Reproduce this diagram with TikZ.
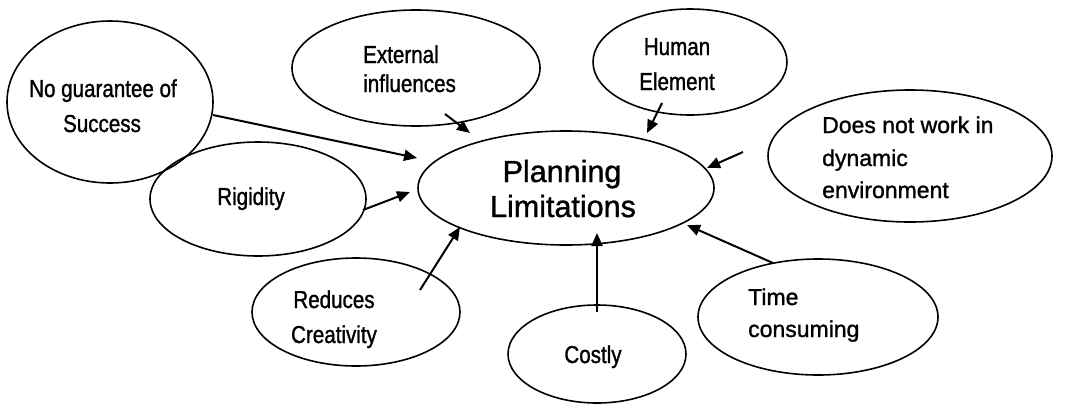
\documentclass[tikz,border=0pt]{standalone}
\usepackage{fontspec}
\setmainfont{Liberation Sans}[FakeBold=1.2]
\newfontfamily\narrowfont{Liberation Sans}[FakeStretch=0.84,FakeBold=1.2]
\newfontfamily\wideregfont{Liberation Sans}[FakeBold=1.2]
\usetikzlibrary{shapes.geometric,arrows.meta}
\tikzset{
  bubble/.style={draw, ellipse, line width=1.6pt, inner sep=0pt},
  lbl/.style={inner sep=0pt, font=\narrowfont\fontsize{24.5}{35}\selectfont},
  wlbl/.style={inner sep=0pt, font=\wideregfont\fontsize{23}{35}\selectfont},
  biglbl/.style={inner sep=0pt, font=\wideregfont\fontsize{30.5}{35}\selectfont},
  arr/.style={line width=2pt, -{Triangle[length=13pt,width=11pt]}}
}
\begin{document}
\begin{tikzpicture}[x=1pt,y=-1pt]
\useasboundingbox (0,0) rectangle (1065,405);
% ellipses
\node[bubble, minimum width=206pt, minimum height=162pt] (ng)   at (110,102) {};
\node[bubble, minimum width=248pt, minimum height=116pt] (ext)  at (416,68) {};
\node[bubble, minimum width=194pt, minimum height=106pt] (hum)  at (690,62) {};
\node[bubble, minimum width=284pt, minimum height=132pt] (dyn)  at (910,156) {};
\node[bubble, minimum width=296pt, minimum height=114pt] (plan) at (566,188) {};
\node[bubble, minimum width=216pt, minimum height=114pt] (rig)  at (258,199) {};
\node[bubble, minimum width=208pt, minimum height=108pt] (red)  at (356,312) {};
\node[bubble, minimum width=178pt, minimum height=98pt]  (cost) at (597,354) {};
\node[bubble, minimum width=240pt, minimum height=116pt] (time) at (818,317) {};
% labels
\node[lbl, anchor=base] (ng1) at (103,97) {No guarantee of};
\node[lbl, anchor=base] (ng2) at (102,132) {Success};
\node[lbl, anchor=base west] (ext1) at (363,63) {External};
\node[lbl, anchor=base west] (ext2) at (363,92) {influences};
\node[lbl, anchor=base] (hum1) at (677,55) {Human};
\node[lbl, anchor=base] (hum2) at (677,90) {Element};
\node[wlbl, anchor=base west] (dyn1) at (822,133) {Does not work in};
\node[wlbl, anchor=base west] (dyn2) at (822,166) {dynamic};
\node[wlbl, anchor=base west] (dyn3) at (822,198) {environment};
\node[biglbl, anchor=base] (plan1) at (562,182) {Planning};
\node[biglbl, anchor=base] (plan2) at (563,217) {Limitations};
\node[lbl, anchor=base] (rigt) at (251,205) {Rigidity};
\node[lbl, anchor=base] (red1) at (334,308) {Reduces};
\node[lbl, anchor=base] (red2) at (334,343) {Creativity};
\node[lbl, anchor=base] (costt) at (593,363) {Costly};
\node[wlbl, anchor=base west] (time1) at (748,305) {Time};
\node[wlbl, anchor=base west] (time2) at (748,337) {consuming};
% arrow endpoints
\coordinate (a1s) at (213,115); \coordinate (a1e) at (417,158);
\coordinate (a2s) at (445,114); \coordinate (a2e) at (470,133);
\coordinate (a3s) at (662,103); \coordinate (a3e) at (647,133);
\coordinate (a4s) at (743,152); \coordinate (a4e) at (707,168);
\coordinate (a5s) at (363,210); \coordinate (a5e) at (410,192);
\coordinate (a6s) at (420,290); \coordinate (a6e) at (460,227);
\coordinate (a7s) at (597,312); \coordinate (a7e) at (597,233);
\coordinate (a8s) at (773,263); \coordinate (a8e) at (687,225);
\draw[arr] (a1s) -- (a1e);
\draw[arr] (a2s) -- (a2e);
\draw[arr] (a3s) -- (a3e);
\draw[arr] (a4s) -- (a4e);
\draw[arr] (a5s) -- (a5e);
\draw[arr] (a6s) -- (a6e);
\draw[arr] (a7s) -- (a7e);
\draw[arr] (a8s) -- (a8e);
\end{tikzpicture}
\end{document}
